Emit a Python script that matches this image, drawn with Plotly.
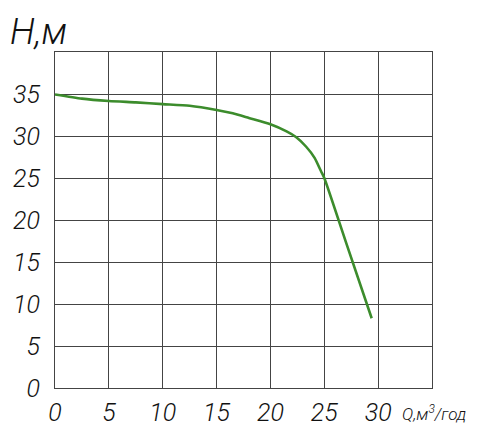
import plotly.graph_objects as go

# напорная характеристика насоса
q_vals = [0, 2.5, 5, 7.5, 10, 12.5, 15, 16.5, 18, 20, 21.5, 22.4, 23.3, 24.1, 24.7, 25, 27, 29.4]
h_vals = [34.95, 34.45, 34.17, 34.0, 33.8, 33.6, 33.1, 32.7, 32.15, 31.4, 30.55, 29.85, 28.75, 27.4, 25.8, 25.0, 17.4, 8.3]

x_ticks = [0, 5, 10, 15, 20, 25, 30]
y_ticks = [0, 5, 10, 15, 20, 25, 30, 35]

font_name = "Roboto, sans-serif"

fig = go.Figure()
fig.add_trace(go.Scatter(x=q_vals, y=h_vals, mode="lines",
                         line=dict(color="#3c8c2c", width=2.6, shape="spline", smoothing=0.6),
                         showlegend=False))

fig.update_xaxes(range=[0, 35], tickvals=x_ticks, showgrid=True, gridcolor="#444", gridwidth=1,
                 showline=True, linecolor="#444", linewidth=1, mirror=True, zeroline=False,
                 ticks="", automargin=False, ticklabelstandoff=2,
                 tickfont=dict(size=25, color="#111", family=font_name, style="italic", weight=300))
fig.update_yaxes(range=[0, 40], tickvals=y_ticks, showgrid=True, gridcolor="#444", gridwidth=1,
                 showline=True, linecolor="#444", linewidth=1, mirror=True, zeroline=False,
                 ticks="", ticklabelstandoff=9, automargin=False,
                 tickfont=dict(size=25, color="#111", family=font_name, style="italic", weight=300))

fig.add_annotation(text="Н,м", xref="paper", yref="paper", x=-0.125, y=1.128, xanchor="left",
                   yanchor="top", showarrow=False,
                   font=dict(size=36, color="#111", family=font_name, style="italic", weight=300))
fig.add_annotation(text="Q,м<sup>3</sup>/год", xref="paper", yref="paper", x=0.915, y=-0.035,
                   xanchor="left", yanchor="top", showarrow=False,
                   font=dict(size=17, color="#111", family=font_name, style="italic", weight=300))

fig.update_layout(width=492, height=424, margin=dict(l=47, r=68, t=44, b=44),
                  paper_bgcolor="white", plot_bgcolor="white")
fig.write_html("out.html")
